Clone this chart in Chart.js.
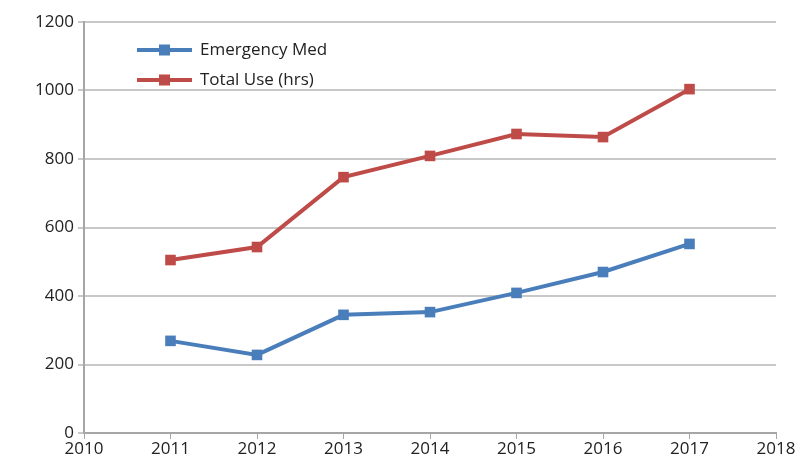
<!DOCTYPE html>
<html>
<head>
<meta charset="utf-8">
<script src="https://cdn.jsdelivr.net/npm/chart.js@4"></script>
<style>
  html, body { margin: 0; padding: 0; background: #fff; }
  #wrap { width: 805px; height: 469px; }
</style>
</head>
<body>
<div id="wrap"><canvas id="chart"></canvas></div>
<script>
  // Данные графика
  const years = [2011, 2012, 2013, 2014, 2015, 2016, 2017];
  const emergencyMed = [269, 228, 345, 353, 409, 470, 552];
  const totalUse = [505, 543, 747, 809, 873, 864, 1004];
  const seriesNames = ["Emergency Med", "Total Use (hrs)"];
  const seriesColors = ["#4a7ebb", "#be4b48"];

  const FONT = "'Open Sans', 'Noto Sans', sans-serif";

  // Легенда внутри области графика
  const insideLegend = {
    id: "insideLegend",
    afterDraw(chart) {
      const ctx = chart.ctx;
      ctx.save();
      ctx.font = "17px " + FONT;
      ctx.textBaseline = "middle";
      seriesNames.forEach((name, i) => {
        const y = 50 + i * 30;
        ctx.strokeStyle = seriesColors[i];
        ctx.lineWidth = 4;
        ctx.beginPath();
        ctx.moveTo(137, y);
        ctx.lineTo(192, y);
        ctx.stroke();
        ctx.fillStyle = seriesColors[i];
        ctx.fillRect(159, y - 5.5, 11, 11);
        ctx.fillStyle = "#222";
        ctx.fillText(name, 200, y);
      });
      ctx.restore();
    },
  };

  const toPoints = (vals) => vals.map((v, i) => ({ x: years[i], y: v }));

  const makeDataset = (label, vals, color) => ({
    label: label,
    data: toPoints(vals),
    borderColor: color,
    backgroundColor: color,
    borderWidth: 4,
    pointStyle: "rect",
    pointRadius: 7.5,
    pointHoverRadius: 7.5,
    pointBorderWidth: 0,
    tension: 0,
  });

  new Chart(document.getElementById("chart"), {
    type: "line",
    data: {
      datasets: [
        makeDataset(seriesNames[0], emergencyMed, seriesColors[0]),
        makeDataset(seriesNames[1], totalUse, seriesColors[1]),
      ],
    },
    options: {
      responsive: true,
      maintainAspectRatio: false,
      animation: false,
      layout: { padding: { top: 22, right: 29, left: 0, bottom: 0 } },
      plugins: {
        legend: { display: false },
        tooltip: { enabled: false },
      },
      scales: {
        x: {
          type: "linear",
          min: 2010,
          max: 2018,
          afterFit: (s) => { s.height = 36; },
          ticks: {
            stepSize: 1,
            color: "#222",
            font: { family: FONT, size: 17 },
            padding: 0,
            callback: (v) => String(v),
          },
          grid: {
            drawOnChartArea: false,
            drawTicks: true,
            tickLength: 6,
            color: "#a6a6a6",
          },
          border: { color: "#a6a6a6", width: 2 },
        },
        y: {
          min: 0,
          max: 1200,
          afterFit: (s) => { s.width = 84; },
          ticks: {
            stepSize: 200,
            color: "#222",
            font: { family: FONT, size: 17 },
            padding: 4,
            callback: (v) => String(v),
          },
          grid: {
            color: "#c8c8c8",
            lineWidth: 2,
            tickLength: 6,
            drawTicks: true,
          },
          border: { color: "#a6a6a6", width: 2 },
        },
      },
    },
    plugins: [insideLegend],
  });
</script>
</body>
</html>
